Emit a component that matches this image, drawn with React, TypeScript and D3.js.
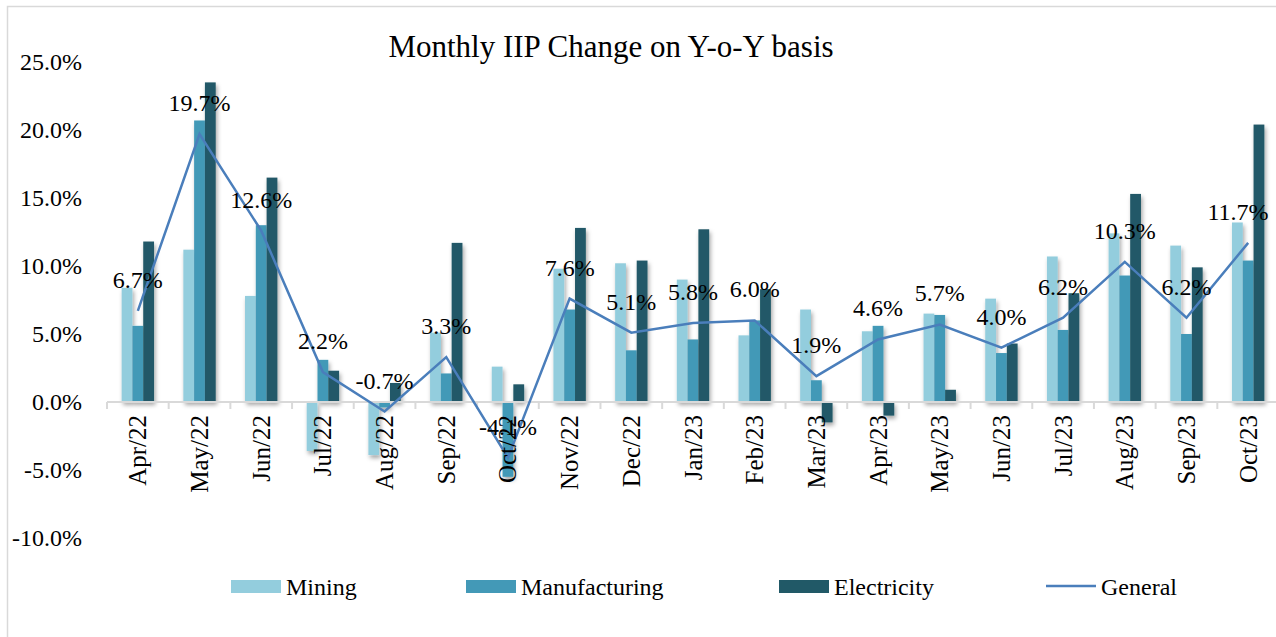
import * as d3 from 'd3';
import React from 'react';

// chart values
const months = ['Apr/22', 'May/22', 'Jun/22', 'Jul/22', 'Aug/22', 'Sep/22', 'Oct/22', 'Nov/22', 'Dec/22', 'Jan/23',
  'Feb/23', 'Mar/23', 'Apr/23', 'May/23', 'Jun/23', 'Jul/23', 'Aug/23', 'Sep/23', 'Oct/23'];
const mining = [8.4, 11.2, 7.8, -3.6, -3.9, 5.1, 2.6, 9.8, 10.2, 9.0, 4.9, 6.8, 5.2, 6.5, 7.6, 10.7, 12.4, 11.5, 13.2];
const manufacturing = [5.6, 20.7, 13.0, 3.1, -0.4, 2.1, -5.5, 6.8, 3.8, 4.6, 6.0, 1.6, 5.6, 6.4, 3.6, 5.3, 9.3, 5.0, 10.4];
const electricity = [11.8, 23.5, 16.5, 2.3, 1.4, 11.7, 1.3, 12.8, 10.4, 12.7, 8.3, -1.5, -1.0, 0.9, 4.3, 8.0, 15.3, 9.9, 20.4];
const general = [6.7, 19.7, 12.6, 2.2, -0.7, 3.3, -4.1, 7.6, 5.1, 5.8, 6.0, 1.9, 4.6, 5.7, 4.0, 6.2, 10.3, 6.2, 11.7];
const yTicks = [-10, -5, 0, 5, 10, 15, 20, 25];

const barSeries = [
  { name: 'Mining', values: mining, color: '#93cddd' },
  { name: 'Manufacturing', values: manufacturing, color: '#4399b7' },
  { name: 'Electricity', values: electricity, color: '#215967' },
];
const lineColor = '#4a7ebb';
const font = '"Liberation Serif", "Times New Roman", serif';

const W = 1276;
const H = 637;

const App = () => {
  const x = d3.scaleBand<string>()
    .domain(months)
    .range([107, 1279])
    .paddingInner(0.475)
    .paddingOuter(0.2375);
  const xs = d3.scaleBand<string>()
    .domain(barSeries.map((s) => s.name))
    .range([0, x.bandwidth()]);
  const y = d3.scaleLinear().domain([-10, 25]).range([538, 62]);

  const cx = (m: string) => (x(m) as number) + x.bandwidth() / 2;
  const line = d3.line<number>()
    .x((d, i) => cx(months[i]))
    .y((d) => y(d));

  const step = x.step();
  const boundaries = d3.range(months.length + 1).map((i) => 107 + i * step);

  const legend = [
    { name: 'Mining', x: 231, type: 'rect', color: barSeries[0].color },
    { name: 'Manufacturing', x: 466, type: 'rect', color: barSeries[1].color },
    { name: 'Electricity', x: 779, type: 'rect', color: barSeries[2].color },
    { name: 'General', x: 1046, type: 'line', color: lineColor },
  ];

  return (
    <svg width={W} height={H} style={{ position: 'absolute', left: 0, top: 0, background: '#fff', fontFamily: font }}>
      <defs>
        <filter id="shadow" x="-30%" y="-10%" width="160%" height="130%">
          <feDropShadow dx="1.5" dy="3" stdDeviation="2" floodColor="#000" floodOpacity="0.35" />
        </filter>
      </defs>
      <rect x={7.5} y={6.5} width={W + 10} height={H + 10} fill="#fff" stroke="#d9d9d9" strokeWidth={1.5} />

      <text x={611} y={57} textAnchor="middle" fontSize={31}>Monthly IIP Change on Y-o-Y basis</text>

      {/* y axis labels */}
      {yTicks.map((t) => (
        <text key={t} x={82} y={y(t) + 8} textAnchor="end" fontSize={24}>{t.toFixed(1) + '%'}</text>
      ))}

      {/* bars */}
      <g filter="url(#shadow)">
        {barSeries.map((s) => (
          <g key={s.name}>
            {s.values.map((v, i) => (
              <rect key={i}
                x={(x(months[i]) as number) + (xs(s.name) as number)}
                width={xs.bandwidth()}
                y={Math.min(y(v), y(0))}
                height={Math.abs(y(v) - y(0))}
                fill={s.color} />
            ))}
          </g>
        ))}
      </g>

      {/* x axis */}
      <line x1={107} x2={1279} y1={y(0)} y2={y(0)} stroke="#d9d9d9" strokeWidth={2} />
      {boundaries.map((b, i) => (
        <line key={i} x1={b} x2={b} y1={y(0)} y2={y(0) + 7} stroke="#d9d9d9" strokeWidth={2} />
      ))}

      {/* general line */}
      <path d={line(general) as string} fill="none" stroke={lineColor} strokeWidth={2.5} />

      {/* month labels */}
      {months.map((m) => (
        <text key={m} transform={`translate(${cx(m) + 8.5},${y(0) + 13}) rotate(-90)`} textAnchor="end" fontSize={25}>{m}</text>
      ))}

      {/* data labels, kept inside the plot at the right edge */}
      {general.map((v, i) => (
        <text key={i} x={Math.min(cx(months[i]), 1238)} y={y(v) - 23} textAnchor="middle" fontSize={24}>{v.toFixed(1) + '%'}</text>
      ))}

      {/* legend */}
      {legend.map((l) => (
        <g key={l.name}>
          {l.type === 'rect'
            ? <rect x={l.x} y={580} width={50} height={13} fill={l.color} />
            : <line x1={l.x} x2={l.x + 50} y1={586} y2={586} stroke={l.color} strokeWidth={2.5} />}
          <text x={l.x + 55} y={595} fontSize={24}>{l.name}</text>
        </g>
      ))}
    </svg>
  );
};

export default App;
